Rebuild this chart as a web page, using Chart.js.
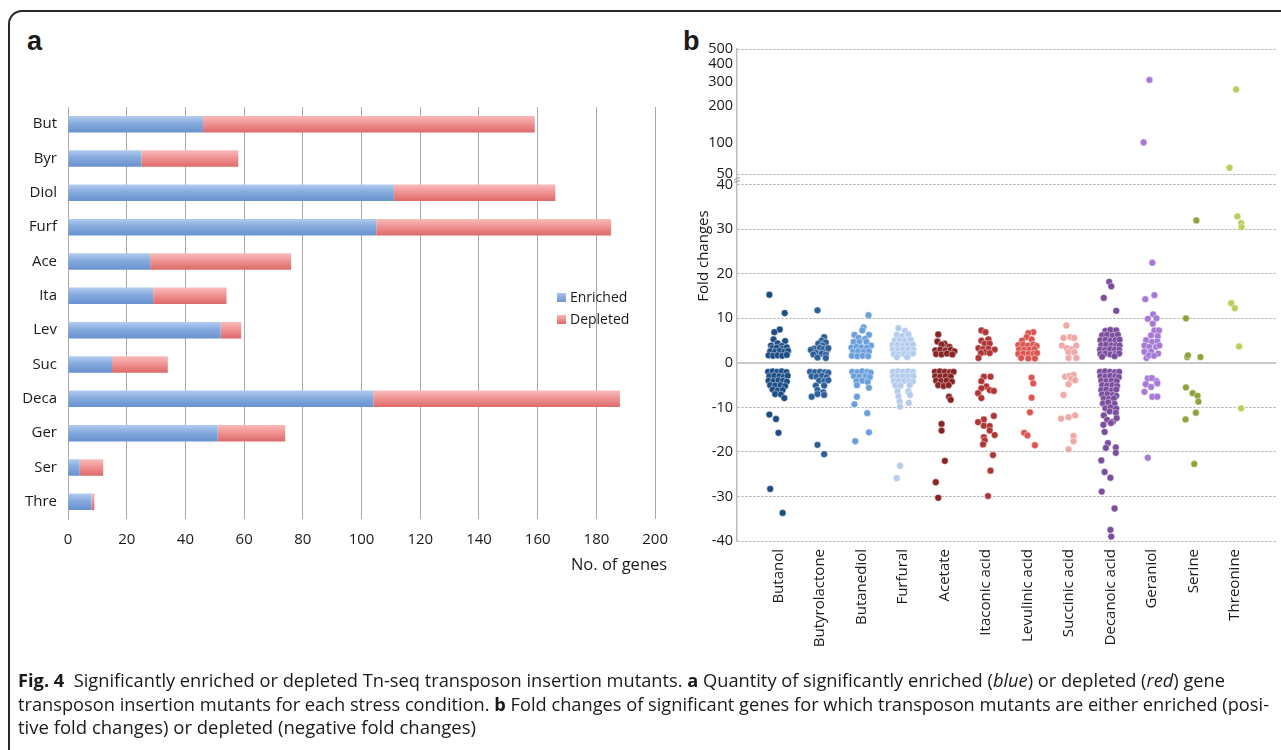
<!DOCTYPE html>
<html lang="en">
  <head>
    <meta charset="UTF-8" />
    <title>Fig. 4 Tn-seq enriched and depleted mutants</title>
    <script src="https://cdn.jsdelivr.net/npm/chart.js"></script>
    <style>
      html, body { margin: 0; padding: 0; background: #fff; }
      #page { position: relative; width: 1281px; height: 750px; overflow: hidden; background: #fff; color: #1a1a1a; font-family: 'Open Sans', sans-serif; }
      #frame { position: absolute; left: 8px; top: 10px; width: 1330px; height: 820px; border: 2px solid #2a2a2a; border-radius: 14px; box-sizing: border-box; }
      .panel-label { position: absolute; font: bold 27px 'Liberation Sans', Arial, sans-serif; line-height: 27px; }
      #wrapA { position: absolute; left: 10px; top: 95px; width: 670px; height: 485px; }
      #wrapB { position: absolute; left: 680px; top: 30px; width: 601px; height: 640px; }
      .legend-item { position: absolute; left: 557px; font-size: 14px; line-height: 18px; white-space: nowrap; }
      .legend-item span { display: inline-block; width: 9px; height: 9px; margin-right: 4px; vertical-align: 0px; }
      .cap { position: absolute; left: 18px; white-space: nowrap; transform-origin: 0 50%; font: 17.5px 'Liberation Sans Narrow', 'Open Sans', sans-serif; line-height: 20px; color: #1a1a1a; }
    </style>
  </head>
  <body>
    <div id="page">
      <div id="frame"></div>
      <div class="panel-label" style="left: 27px; top: 28px">a</div>
      <div class="panel-label" style="left: 683px; top: 28px">b</div>

      <div id="wrapA"><canvas id="countChart"></canvas></div>
      <div class="legend-item" style="top: 288px"><span style="background: linear-gradient(#a9c4ea, #6d96d0)"></span>Enriched</div>
      <div class="legend-item" style="top: 310px"><span style="background: linear-gradient(#f8b4b4, #e06868)"></span>Depleted</div>

      <div id="wrapB"><canvas id="foldChart"></canvas></div>

      <div class="cap" data-w="1207" style="top: 670px"><b>Fig. 4</b>&nbsp; Significantly enriched or depleted Tn-seq transposon insertion mutants. <b>a</b> Quantity of significantly enriched (<i>blue</i>) or depleted (<i>red</i>) gene</div>
      <div class="cap" data-w="1251" style="top: 694px">transposon insertion mutants for each stress condition. <b>b</b> Fold changes of significant genes for which transposon mutants are either enriched (posi-</div>
      <div class="cap" data-w="458" style="top: 717px">tive fold changes) or depleted (negative fold changes)</div>
    </div>

    <script>
      // ---- panel a: number of genes per condition ----
      const barLabels = ['But', 'Byr', 'Diol', 'Furf', 'Ace', 'Ita', 'Lev', 'Suc', 'Deca', 'Ger', 'Ser', 'Thre'];
      const enriched = [46, 25, 111, 105, 28, 29, 52, 15, 104, 51, 4, 8];
      const depleted = [113, 33, 55, 80, 48, 25, 7, 19, 84, 23, 8, 1];

      // ---- panel b: fold changes, one strip per condition ([offset in strip, fold change]) ----
      const conditions = ['Butanol', 'Butyrolactone', 'Butanediol', 'Furfural', 'Acetate', 'Itaconic acid',
        'Levulinic acid', 'Succinic acid', 'Decanoic acid', 'Geraniol', 'Serine', 'Threonine'];
      const foldTicks = [-40, -30, -20, -10, 0, 10, 20, 30, 40, 50, 100, 200, 300, 400, 500];

      const butanol = [
        [-0.22, 15.3], [0.15, 11.2], [0.03, 7.5], [-0.1, 6.9], [-0.12, 5.3], [0.16, 4.9], [-0.02, 4.4], [-0.18, 3.9], [0.08, 3.8],
        [-0.15, 3.3], [-0.04, 3.4], [0.1, 3.2], [0.2, 3.5],
        [-0.2, 2.6], [-0.08, 2.5], [0.03, 2.7], [0.14, 2.5], [0.23, 2.7],
        [-0.24, 1.7], [-0.13, 1.6], [-0.02, 1.7], [0.09, 1.6], [0.2, 1.8],
        [-0.25, -2], [-0.14, -1.9], [-0.03, -2], [0.08, -1.9], [0.19, -2.1],
        [-0.22, -3], [-0.1, -2.9], [0.02, -3], [0.13, -3.1], [0.22, -2.9],
        [-0.24, -4], [-0.12, -4.1], [0, -3.9], [0.11, -4], [0.2, -4.2],
        [-0.2, -5], [-0.08, -5.1], [0.05, -5], [0.16, -5.2],
        [-0.14, -6], [-0.02, -6.2], [0.1, -6.1], [-0.08, -7], [0.06, -7.1], [0.14, -7.9],
        [-0.22, -11.6], [-0.06, -12.6], [0, -15.7], [-0.2, -28.3], [0.1, -33.7]
      ];
      const butyrolactone = [
        [-0.06, 11.8], [0.1, 5.8], [0.04, 5], [0.14, 4.6], [-0.04, 4.3], [0.06, 3.9], [-0.14, 3.2], [-0.22, 2.9], [0, 3.4],
        [0.08, 3.1], [0.17, 2.8], [0.2, 3.3], [-0.1, 2.3], [0.04, 2.1], [0.14, 1.8], [-0.16, 1.9], [-0.06, 1.2], [0.14, 1.1],
        [-0.24, -2], [-0.12, -2.1], [0, -2], [0.12, -2.1], [0.2, -2.2],
        [-0.2, -3], [-0.08, -3.1], [0.05, -2.9], [0.16, -3.2],
        [-0.02, -4], [0.1, -4.1], [0.2, -3.9], [-0.1, -5.1], [0.1, -5.1],
        [-0.06, -6.1], [0.08, -6.6], [-0.2, -7.6], [-0.06, -7], [0.1, -7.2],
        [-0.06, -18.4], [0.1, -20.5]
      ];
      const butanediol = [
        [0.17, 10.7], [0.05, 8], [0.02, 7.3], [-0.17, 6.3], [0.18, 6.3], [-0.07, 5.6], [0.09, 5.4],
        [-0.19, 4.7], [-0.05, 4.7], [0.12, 4.7], [0.23, 3.9],
        [-0.24, 3.4], [-0.12, 3.6], [0, 3.5], [0.13, 3.4],
        [-0.2, 2.5], [-0.08, 2.6], [0.05, 2.5], [0.18, 2.6],
        [-0.23, 1.6], [-0.1, 1.5], [0.03, 1.6], [0.16, 1.5],
        [-0.22, -2], [-0.1, -2.1], [0.02, -1.9], [0.14, -2], [0.22, -2.2],
        [-0.18, -3], [-0.05, -3.1], [0.1, -3], [0.2, -3.2],
        [-0.12, -4.1], [0.02, -4], [0.15, -4.3], [-0.11, -5], [0.18, -5.6],
        [-0.11, -7.6], [-0.17, -9.3], [0.14, -11.3], [0.18, -15.6], [-0.15, -17.6]
      ];
      const furfural = [
        [-0.11, 7.8], [0.05, 7.2], [-0.15, 6.3], [-0.03, 6], [0.13, 6.4],
        [-0.2, 5], [-0.08, 5.1], [0.05, 5], [0.18, 5.2],
        [-0.25, 4], [-0.13, 4.1], [0, 3.9], [0.12, 4], [0.24, 4.1],
        [-0.24, 3], [-0.12, 2.9], [0.01, 3.1], [0.13, 3], [0.25, 2.9],
        [-0.22, 2], [-0.1, 1.9], [0.03, 2], [0.15, 1.9], [0.24, 2.1], [-0.15, 1.3], [0.1, 1.3],
        [-0.24, -2], [-0.12, -1.9], [0, -2], [0.12, -1.9], [0.24, -2],
        [-0.24, -3], [-0.12, -3.1], [0, -3], [0.13, -3.1], [0.25, -3],
        [-0.22, -4], [-0.1, -4.1], [0.03, -4], [0.15, -4.1], [0.24, -4.2],
        [-0.18, -5], [-0.06, -5.1], [0.16, -5], [-0.13, -6.4], [0.13, -6.4],
        [-0.11, -7.5], [0.17, -7.2], [-0.08, -8.7], [0.14, -9], [-0.07, -9.8],
        [-0.07, -23.1], [-0.15, -25.9]
      ];
      const acetate = [
        [-0.15, 6.4], [-0.17, 4.8], [0, 4.3], [-0.07, 4.1], [0.12, 3.6],
        [-0.22, 2.8], [-0.1, 3], [0.03, 2.8], [0.15, 3], [0.24, 2.6],
        [-0.2, 2], [-0.07, 1.9], [0.06, 2.1], [0.19, 1.9],
        [-0.23, -2], [-0.11, -1.9], [0.01, -2], [0.13, -2.1], [0.22, -2],
        [-0.22, -3], [-0.1, -3.1], [0.03, -3], [0.15, -3.1],
        [-0.2, -4], [-0.08, -4.1], [0.05, -4], [0.18, -4.2],
        [-0.15, -5], [-0.02, -5.2], [0.1, -5], [0.11, -7.6], [0.15, -8.3],
        [-0.07, -13.7], [-0.07, -15.2], [0.01, -22], [-0.21, -26.8], [-0.15, -30.3]
      ];
      const itaconic = [
        [-0.11, 7.3], [-0.01, 6.9], [-0.11, 5], [0.06, 5.3], [-0.03, 4.3], [0.09, 4.3],
        [-0.18, 3.3], [-0.07, 3.1], [0.06, 3.2], [0.21, 3], [-0.03, 2.4], [0.09, 2.2], [-0.12, 2.2], [-0.18, 1.1],
        [-0.05, -3.1], [0.11, -3.1], [-0.11, -4.1], [0.01, -5.3], [-0.11, -5.7], [0.09, -6.1], [0.19, -6.3],
        [-0.19, -6.8], [-0.11, -7.9],
        [0.19, -11.9], [-0.05, -12.7], [-0.19, -13.3], [-0.05, -14.1], [0.09, -14.2], [0.09, -15.2],
        [0.21, -16.2], [-0.05, -16.7], [-0.03, -17.4], [-0.07, -18.3], [0.17, -20.7], [0.11, -24.2], [0.05, -29.9]
      ];
      const levulinic = [
        [0.14, 6.9], [0.02, 6.7], [-0.02, 5.8], [0.1, 5.3], [-0.13, 5],
        [-0.22, 4], [-0.1, 4.1], [0.02, 3.9], [0.14, 4.1], [0.22, 3.8],
        [-0.2, 3], [-0.08, 2.9], [0.05, 3], [0.17, 3.1],
        [-0.22, 2], [-0.1, 2.1], [0.03, 2], [0.15, 2.1], [0.23, 2.2],
        [-0.15, 1.1], [0.02, 1], [0.18, 1],
        [0.1, -3.3], [0.14, -4.6], [0.1, -7.8], [0.06, -11.1], [-0.08, -15.7], [0, -16.3], [0.18, -18.5]
      ];
      const succinic = [
        [-0.06, 8.4], [-0.13, 5.6], [0.03, 5.8], [0.13, 5.6], [-0.17, 3.9], [-0.05, 3.3], [0.07, 3.1], [0.18, 3.9],
        [-0.01, 2.4], [0.13, 2.4], [-0.01, 1.1], [0.18, 1.1],
        [-0.09, -3.1], [0.02, -2.9], [0.11, -2.7], [0.06, -3.6], [0.15, -3.9], [-0.01, -4.8], [-0.13, -7.2],
        [0.15, -11.8], [-0.01, -12.2], [-0.19, -12.5], [0.11, -16.4], [0.11, -17.6], [-0.01, -19.4]
      ];
      const decanoic = [
        [-0.03, 18.2], [0.02, 17.2], [-0.16, 14.6], [0.14, 11.7],
        [-0.12, 7.2], [0, 7.4], [0.14, 7.3],
        [-0.2, 6.2], [-0.08, 6.3], [0.05, 6.1], [0.18, 6.3],
        [-0.24, 5.1], [-0.12, 5.2], [0, 5], [0.12, 5.1], [0.22, 5.2],
        [-0.22, 4], [-0.1, 4.1], [0.02, 3.9], [0.14, 4], [0.22, 3.9],
        [-0.25, 3], [-0.13, 2.9], [-0.01, 3.1], [0.11, 3], [0.21, 2.9],
        [-0.24, 2], [-0.12, 2.1], [0, 1.9], [0.12, 2], [0.21, 2.1], [-0.2, 1.4], [0.1, 1.5],
        [-0.25, -2], [-0.13, -1.9], [-0.01, -2], [0.11, -2.1], [0.21, -2],
        [-0.24, -3], [-0.12, -3.1], [0, -2.9], [0.12, -3], [0.2, -3.2],
        [-0.22, -4], [-0.1, -4.1], [0.03, -4], [0.15, -4.1],
        [-0.2, -5], [-0.08, -5.1], [0.05, -5], [0.16, -5.2],
        [-0.22, -6.1], [-0.1, -6], [0.03, -6.2], [0.14, -6],
        [-0.2, -7.1], [-0.07, -7], [0.06, -7.2], [0.14, -7.4],
        [-0.16, -8], [-0.04, -8.1], [0.08, -8],
        [-0.18, -9.1], [-0.05, -8.9], [0.1, -9.2],
        [-0.12, -10.2], [0, -10], [0.14, -10.3],
        [-0.16, -11.8], [-0.02, -10.9], [0.13, -11.2],
        [-0.08, -12.8], [0.06, -13.2], [0.15, -12.4], [-0.17, -13.9], [0.01, -13.5],
        [-0.14, -15.5], [-0.06, -18], [-0.11, -19.1], [0.13, -19], [0.13, -20.2], [-0.22, -21.9],
        [-0.14, -24.5], [0, -25.8], [-0.21, -28.9], [0.1, -32.7], [0, -37.5], [0.02, -39]
      ];
      const geraniol = [
        [-0.06, 310], [-0.2, 100],
        [0.01, 22.5], [0.06, 15.2], [-0.16, 14.3], [0.03, 10.9], [-0.1, 9.9], [0.11, 10], [0.02, 8.8],
        [0.06, 7.3], [0.17, 7.3], [-0.02, 6.2], [0.14, 6], [-0.14, 5.1], [0, 4.7], [0.13, 4.8],
        [-0.18, 3.9], [-0.06, 3.6], [0.1, 3.6], [0.18, 3.9], [-0.18, 2.5], [-0.02, 2.6], [0.15, 2.1],
        [-0.13, 1.1], [-0.07, 1.7], [0.05, 1.6],
        [-0.1, -3.5], [0, -3.4], [0.11, -4.1], [-0.15, -4.8], [-0.02, -5.4], [0.13, -4.6],
        [-0.18, -6.5], [0.01, -7.6], [0.13, -7.6], [-0.1, -21.3]
      ];
      const serine = [
        [0.07, 32], [-0.18, 10], [-0.15, 1.3], [-0.13, 1.7], [0.17, 1.3],
        [-0.18, -5.5], [-0.02, -6.8], [0.1, -7.4], [0.12, -8.7], [0.06, -11.2], [-0.19, -12.7], [0.02, -22.7]
      ];
      const threonine = [
        [0.03, 265], [-0.13, 58], [0.06, 32.9], [0.15, 31.4], [0.16, 30.5],
        [-0.09, 13.4], [0, 12.3], [0.1, 3.7], [0.15, -10.2]
      ];
      const strips = [butanol, butyrolactone, butanediol, furfural, acetate, itaconic,
        levulinic, succinic, decanoic, geraniol, serine, threonine];
      const stripColors = ['#1d4d85', '#2d5f9a', '#6a9fdc', '#b4ccee', '#8a2424', '#b03636',
        '#dc5550', '#f0a8a6', '#7a4d9e', '#a779d6', '#8ca43a', '#b9cf5c'];

      Chart.defaults.font.family = "'Open Sans', sans-serif";
      Chart.defaults.font.size = 15;
      Chart.defaults.color = '#1a1a1a';

      // vertical gradient per bar, like the shaded excel bars
      function barGradient(top, mid, bottom) {
        return (c) => {
          const ys = c.chart.scales.y;
          if (!ys || c.dataIndex == null) return mid;
          const py = ys.getPixelForValue(c.dataIndex);
          if (!isFinite(py)) return mid;
          const g = c.chart.ctx.createLinearGradient(0, py - 8, 0, py + 8);
          g.addColorStop(0, top);
          g.addColorStop(0.45, mid);
          g.addColorStop(1, bottom);
          return g;
        };
      }

      // x axis title sits a little past the end of the axis
      const genesTitle = {
        id: 'genesTitle',
        afterDraw(chart) {
          const { ctx, chartArea } = chart;
          ctx.save();
          ctx.font = "16.5px 'Open Sans', sans-serif";
          ctx.fillStyle = '#1a1a1a';
          ctx.textAlign = 'right';
          ctx.textBaseline = 'middle';
          ctx.fillText('No. of genes', chartArea.right + 12, chartArea.bottom + 46);
          ctx.restore();
        },
      };

      new Chart(document.getElementById('countChart'), {
        type: 'bar',
        data: {
          labels: barLabels,
          datasets: [
            { label: 'Enriched', data: enriched, backgroundColor: barGradient('#b0cbee', '#86aade', '#6892cf') },
            { label: 'Depleted', data: depleted, backgroundColor: barGradient('#f9baba', '#f09494', '#de6a6a') },
          ],
        },
        options: {
          indexAxis: 'y',
          responsive: true,
          maintainAspectRatio: false,
          animation: false,
          layout: { padding: { top: 1, right: 19, bottom: 6, left: 0 } },
          datasets: { bar: { barPercentage: 0.48, categoryPercentage: 1 } },
          plugins: { legend: { display: false }, tooltip: { enabled: false } },
          scales: {
            x: {
              stacked: true,
              min: 0,
              max: 200,
              ticks: { stepSize: 20, padding: 12 },
              grid: { color: '#a8a8a8', drawTicks: false },
              border: { display: false },
              afterFit: (s) => { s.height = 55; },
            },
            y: {
              stacked: true,
              ticks: { padding: 3 },
              grid: { display: false },
              border: { color: '#a8a8a8' },
              afterFit: (s) => { s.width = 58; },
            },
          },
        },
        plugins: [genesTitle],
      });

      // y axis of panel b: linear from -40 to 40, a short break, then a compressed 50..500 part
      const LOW = 40, HIGH = 50, TOP = 500, BOTTOM = -40;
      const SPLIT_LOW = 0.724, SPLIT_HIGH = 0.7455;
      const root = (v) => Math.pow(v, 0.2);
      function foldToDecimal(v) {
        if (v <= LOW) return ((v - BOTTOM) / (LOW - BOTTOM)) * SPLIT_LOW;
        if (v <= HIGH) return SPLIT_LOW + ((v - LOW) / (HIGH - LOW)) * (SPLIT_HIGH - SPLIT_LOW);
        return SPLIT_HIGH + ((root(v) - root(HIGH)) / (root(TOP) - root(HIGH))) * (1 - SPLIT_HIGH);
      }
      function decimalToFold(d) {
        if (d <= SPLIT_LOW) return BOTTOM + (d / SPLIT_LOW) * (LOW - BOTTOM);
        if (d <= SPLIT_HIGH) return LOW + ((d - SPLIT_LOW) / (SPLIT_HIGH - SPLIT_LOW)) * (HIGH - LOW);
        const r = root(HIGH) + ((d - SPLIT_HIGH) / (1 - SPLIT_HIGH)) * (root(TOP) - root(HIGH));
        return Math.pow(r, 5);
      }
      class BrokenScale extends Chart.LinearScale {
        getPixelForValue(value) {
          return value == null ? NaN : this.getPixelForDecimal(foldToDecimal(value));
        }
        getValueForPixel(pixel) {
          return decimalToFold(this.getDecimalForPixel(pixel));
        }
      }
      BrokenScale.id = 'broken';
      Chart.register(BrokenScale);

      // axis title centred on the lower part, plus the small break mark
      const foldAxisExtras = {
        id: 'foldAxisExtras',
        afterDraw(chart) {
          const { ctx, chartArea, scales } = chart;
          const y = scales.y;
          ctx.save();
          ctx.font = "15px 'Open Sans', sans-serif";
          ctx.fillStyle = '#1a1a1a';
          ctx.textAlign = 'center';
          ctx.textBaseline = 'middle';
          ctx.translate(chartArea.left - 33, y.getPixelForValue(24));
          ctx.rotate(-Math.PI / 2);
          ctx.fillText('Fold changes', 0, 0);
          ctx.restore();

          const mid = (y.getPixelForValue(LOW) + y.getPixelForValue(HIGH)) / 2;
          const x = chartArea.left;
          ctx.save();
          ctx.strokeStyle = '#9a9a9a';
          ctx.lineWidth = 1;
          ctx.beginPath();
          ctx.moveTo(x - 3, mid);
          ctx.lineTo(x + 3, mid - 2);
          ctx.moveTo(x - 3, mid + 3);
          ctx.lineTo(x + 3, mid + 1);
          ctx.stroke();
          ctx.restore();
        },
      };

      const hiddenGrid = [100, 200, 300, 400];
      new Chart(document.getElementById('foldChart'), {
        type: 'scatter',
        data: {
          datasets: strips.map((pts, i) => ({
            label: conditions[i],
            data: pts.map(([dx, fold]) => ({ x: i + 1 + dx, y: fold })),
            backgroundColor: stripColors[i],
            borderColor: 'rgba(255,255,255,0.7)',
            borderWidth: 0.6,
            pointRadius: 3.4,
          })),
        },
        options: {
          responsive: true,
          maintainAspectRatio: false,
          animation: false,
          layout: { padding: { top: 19, right: 0, bottom: 0, left: 0 } },
          plugins: { legend: { display: false }, tooltip: { enabled: false } },
          scales: {
            x: {
              type: 'linear',
              min: 0,
              max: conditions.length + 1,
              afterBuildTicks: (s) => { s.ticks = conditions.map((c, i) => ({ value: i + 1 })); },
              ticks: {
                autoSkip: false,
                minRotation: 90,
                maxRotation: 90,
                padding: 0,
                callback: (v) => conditions[v - 1],
              },
              grid: { display: false },
              border: { display: false },
              afterFit: (s) => { s.height = 129; },
            },
            y: {
              type: 'broken',
              min: BOTTOM,
              max: TOP,
              afterBuildTicks: (s) => { s.ticks = foldTicks.map((v) => ({ value: v })); },
              ticks: { autoSkip: false, padding: 4, font: { size: 14.5 } },
              grid: {
                drawTicks: false,
                color: (c) => (c.tick && hiddenGrid.includes(c.tick.value) ? 'rgba(0,0,0,0)'
                  : c.tick && c.tick.value === 0 ? '#c8c8c8' : '#a5a5a5'),
                lineWidth: (c) => (c.tick && c.tick.value === 0 ? 2 : 1),
              },
              border: {
                color: '#bdbdbd',
                width: 1.5,
                dash: (c) => (c.tick && c.tick.value === 0 ? [] : [2, 2]),
              },
              afterFit: (s) => { s.width = 57; },
            },
          },
        },
        plugins: [foldAxisExtras],
      });

      // squeeze each caption line to the width it has in the figure
      function fitCaption() {
        document.querySelectorAll('.cap').forEach((el) => {
          el.style.transform = 'none';
          const w = el.getBoundingClientRect().width;
          el.style.transform = `scaleX(${el.dataset.w / w})`;
        });
      }
      fitCaption();
      document.fonts.ready.then(fitCaption);
    </script>
  </body>
</html>
